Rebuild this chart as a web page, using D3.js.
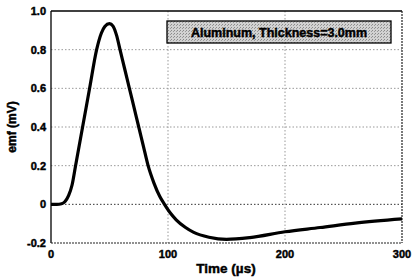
<!DOCTYPE html>
<html><head><meta charset="utf-8">
<script src="https://cdn.jsdelivr.net/npm/d3@7"></script>
<style>body{margin:0;background:#fff}svg{display:block}text{font-family:"Liberation Sans",Arial,sans-serif;font-weight:bold;fill:#000;stroke:#000;stroke-width:0.45px}</style>
</head><body>
<svg id="c" width="412" height="277"></svg>
<script>
const timeUs = [0,5,9,12,15,18,21,27,33,39,43,46,50,53,56,59,63,67,71,75,79,83,88,93,97,102,107,115,122,135,150,170,200,230,260,300];
const emfMv  = [0,0,0.003,0.015,0.045,0.1,0.2,0.4,0.6,0.8,0.885,0.92,0.935,0.922,0.875,0.8,0.7,0.6,0.5,0.4,0.3,0.2,0.11,0.04,0,-0.045,-0.08,-0.12,-0.145,-0.17,-0.181,-0.172,-0.142,-0.12,-0.097,-0.075];
const xTicks = [0,100,200,300];
const yTicks = [-0.2,0,0.2,0.4,0.6,0.8,1.0];
const yTickLabels = ["-0.2","0","0.2","0.4","0.6","0.8","1.0"];
const legendText = "Aluminum, Thickness=3.0mm";

const svg = d3.select("#c");
const x = d3.scaleLinear().domain([0,300]).range([51,402]);
const y = d3.scaleLinear().domain([-0.2,1.0]).range([243,11]);

const defs = svg.append("defs");
const pat = defs.append("pattern").attr("id","stip").attr("width",3).attr("height",3).attr("patternUnits","userSpaceOnUse");
pat.append("rect").attr("width",3).attr("height",3).attr("fill","#d2d2d2");
pat.append("rect").attr("x",0).attr("y",0).attr("width",1).attr("height",1).attr("fill","#8a8a8a");
pat.append("rect").attr("x",2).attr("y",1).attr("width",1).attr("height",1).attr("fill","#9a9a9a");

// grid
const g = svg.append("g");
g.selectAll(".gh").data(yTicks.filter(v=>v>-0.2 && v<1.0)).enter().append("line")
  .attr("x1",x(0)).attr("x2",x(300)).attr("y1",d=>y(d)).attr("y2",d=>y(d))
  .attr("stroke",d=>d===0?"#333":"#999").attr("stroke-width",1).attr("stroke-dasharray","1.5,2");
g.selectAll(".gv").data(xTicks.filter(v=>v>0 && v<300)).enter().append("line")
  .attr("x1",d=>x(d)).attr("x2",d=>x(d)).attr("y1",y(1.0)).attr("y2",y(-0.2))
  .attr("stroke","#999").attr("stroke-width",1).attr("stroke-dasharray","1.5,2");

// frame
svg.append("line").attr("x1",x(0)).attr("x2",x(300)).attr("y1",y(1.0)).attr("y2",y(1.0)).attr("stroke","#000").attr("stroke-width",1.3);
svg.append("line").attr("x1",x(0)).attr("x2",x(0)).attr("y1",y(1.0)).attr("y2",y(-0.2)).attr("stroke","#000").attr("stroke-width",1.3);
svg.append("line").attr("x1",x(0)).attr("x2",x(300)).attr("y1",y(-0.2)).attr("y2",y(-0.2)).attr("stroke","#222").attr("stroke-width",1.2).attr("stroke-dasharray","2,1");
svg.append("line").attr("x1",x(300)).attr("x2",x(300)).attr("y1",y(1.0)).attr("y2",y(-0.2)).attr("stroke","#222").attr("stroke-width",1.2).attr("stroke-dasharray","2,1");

// tick labels
svg.selectAll(".yl").data(yTicks).enter().append("text")
  .attr("x",46).attr("y",d=>y(d)+4).attr("text-anchor","end").attr("font-size",11)
  .text((d,i)=>yTickLabels[i]);
svg.selectAll(".xl").data(xTicks).enter().append("text")
  .attr("x",d=>x(d)).attr("y",258).attr("text-anchor","middle").attr("font-size",11)
  .text(d=>d);

// axis titles
svg.append("text").attr("transform","translate(16,127) rotate(-90)").attr("text-anchor","middle").attr("font-size",12).text("emf (mV)");
svg.append("text").attr("x",226).attr("y",273).attr("text-anchor","middle").attr("font-size",13.5).text("Time (µs)");

// legend
svg.append("rect").attr("x",167).attr("y",21).attr("width",224).attr("height",22).attr("fill","url(#stip)").attr("stroke","#000").attr("stroke-width",1.3);
svg.append("text").attr("x",279).attr("y",37).attr("text-anchor","middle").attr("font-size",12.5).text(legendText);

// curve
const pts = timeUs.map((t,i)=>[t,emfMv[i]]);
svg.append("path").datum(pts)
  .attr("d",d3.line().x(d=>x(d[0])).y(d=>y(d[1])).curve(d3.curveMonotoneX))
  .attr("fill","none").attr("stroke","#000").attr("stroke-width",3.2).attr("stroke-linejoin","round");
</script>
</body></html>
